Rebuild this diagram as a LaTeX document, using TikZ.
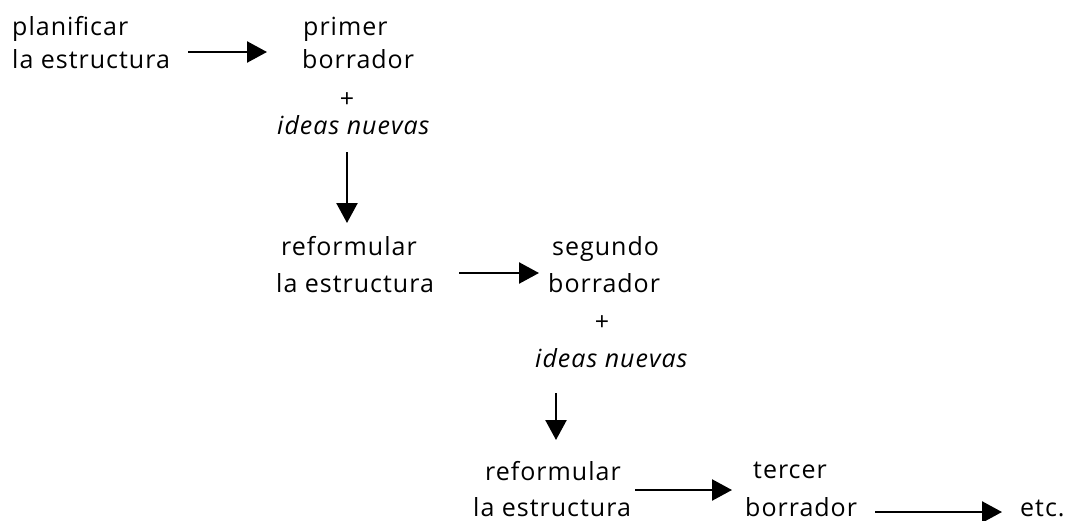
\documentclass[tikz,border=0pt]{standalone}
\usepackage{fontspec}
\setmainfont[LetterSpace=4]{Open Sans}
\usetikzlibrary{arrows.meta}
\begin{document}
\begin{tikzpicture}[x=1pt,y=-1pt,
  txt/.style={anchor=base west,inner sep=0pt,font=\fontsize{25}{30}\selectfont},
  itx/.style={txt,font=\fontsize{25}{30}\selectfont\itshape},
  pl/.style={anchor=center,inner sep=0pt,font=\fontsize{25}{30}\selectfont},
  arr/.style={line width=2.4pt,-{Triangle[length=20pt,width=21pt]}}]
\useasboundingbox (0,0) rectangle (1068,520);
% row 1
\node[txt] (plan1) at (12,35) {planificar};
\node[txt] (plan2) at (12,68) {la estructura};
\node[txt] (prim1) at (303,35) {primer};
\node[txt] (prim2) at (302,68) {borrador};
\node[pl] (plus1) at (347,100) {+};
\node[itx] (ideas1) at (277,134) {ideas nuevas};
\coordinate (h1s) at (188,52);
\coordinate (h1e) at (267,52);
\draw[arr] (h1s) -- (h1e);
\coordinate (v1s) at (347,152);
\coordinate (v1e) at (347,223);
\draw[arr] (v1s) -- (v1e);
% row 2
\node[txt] (ref1) at (281,255) {reformular};
\node[txt] (ref2) at (276,292) {la estructura};
\node[txt] (seg1) at (552,255) {segundo};
\node[txt] (seg2) at (548,292) {borrador};
\coordinate (h2s) at (459,273);
\coordinate (h2e) at (539,273);
\draw[arr] (h2s) -- (h2e);
\node[pl] (plus2) at (602,323) {+};
\node[itx] (ideas2) at (535,367) {ideas nuevas};
\coordinate (v2s) at (556,393);
\coordinate (v2e) at (556,440);
\draw[arr] (v2s) -- (v2e);
% row 3
\node[txt] (ref3) at (485,480) {reformular};
\node[txt] (ref4) at (473,516) {la estructura};
\node[txt] (ter1) at (753,478) {tercer};
\node[txt] (ter2) at (745,516) {borrador};
\coordinate (h3s) at (635,490);
\coordinate (h3e) at (732,490);
\draw[arr] (h3s) -- (h3e);
\coordinate (h4s) at (875,512);
\coordinate (h4e) at (1002,512);
\draw[arr] (h4s) -- (h4e);
\node[txt] (etc) at (1020,516) {etc.};
\end{tikzpicture}
\end{document}
